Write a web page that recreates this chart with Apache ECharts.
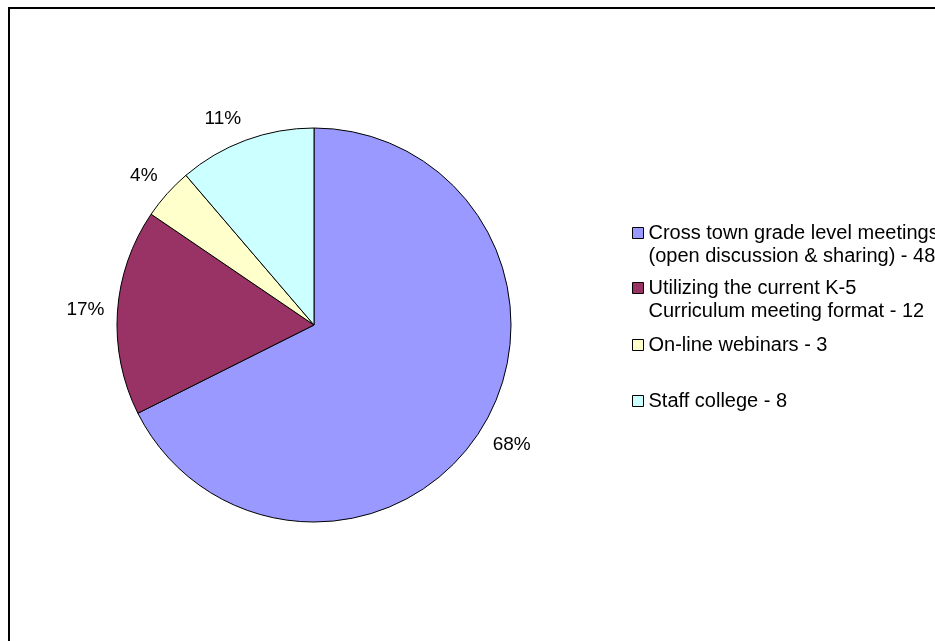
<!DOCTYPE html>
<html>
<head>
<meta charset="utf-8">
<title>Preferred formats</title>
<script src="https://cdn.jsdelivr.net/npm/echarts@6/dist/echarts.min.js"></script>
<style>
  html, body { margin: 0; padding: 0; background: #fff; }
  #chart { width: 935px; height: 641px; }
</style>
</head>
<body>
<div id="chart"></div>
<script>
// Category names (legend text) and the number of responses for each
const categories = [
  'Cross town grade level meetings\n(open discussion & sharing) - 48',
  'Utilizing the current K-5\nCurriculum meeting format - 12',
  'On-line webinars - 3',
  'Staff college - 8'
];
const counts = [48, 12, 3, 8];
const sliceColors = ['#9999FF', '#993366', '#FFFFCC', '#CCFFFF'];

const FONT = 'Liberation Sans, Arial, sans-serif';
const CX = 314, CY = 325, R = 197;
const total = counts.reduce((a, b) => a + b, 0);

// Mid-angle of each slice, clockwise from 12 o'clock
const midAngles = [];
let acc = 0;
counts.forEach(v => {
  midAngles.push((acc + v / 2) / total * Math.PI * 2);
  acc += v;
});

// One legend block per entry so each can sit at its own height.
// Two-line entries get a blank leading line so the swatch lines up
// with the first line of text.
const legendTops = [198.5, 253.5, 333.5, 389.5];
const legends = categories.map((name, i) => ({
  data: [name],
  left: 632,
  top: legendTops[i],
  padding: 0,
  orient: 'vertical',
  icon: 'rect',
  itemWidth: 11,
  itemHeight: 11,
  selectedMode: false,
  itemStyle: { borderColor: '#000', borderWidth: 1 },
  formatter: n => (n.indexOf('\n') >= 0 ? ' \n' : '') + n,
  textStyle: { fontFamily: FONT, fontSize: 20, lineHeight: 23, color: '#000' }
}));

const chart = echarts.init(document.getElementById('chart'), null, { renderer: 'canvas' });
chart.setOption({
  backgroundColor: '#fff',
  animation: false,
  legend: legends,
  graphic: [{
    type: 'rect',
    shape: { x: 9, y: 8, width: 1000, height: 1000 },
    style: { fill: 'none', stroke: '#000', lineWidth: 2 },
    silent: true
  }],
  series: [{
    type: 'pie',
    center: [CX, CY],
    radius: R,
    startAngle: 90,
    clockwise: true,
    avoidLabelOverlap: false,
    itemStyle: { borderColor: '#000', borderWidth: 1 },
    emphasis: { disabled: true },
    label: {
      show: true,
      position: 'outside',
      formatter: p => Math.round(p.value / total * 100) + '%',
      fontFamily: FONT, fontSize: 19, color: '#000'
    },
    labelLine: { show: false },
    // Place each percentage just beyond the rim, pushed outward by its own box
    labelLayout: function (p) {
      const t = midAngles[p.dataIndex];
      const s = Math.sin(t), c = Math.cos(t);
      const d = R + 13;
      const px = CX + s * d, py = CY - c * d;
      const w = p.labelRect.width, h = p.labelRect.height;
      const ky = Math.min(1, Math.abs(c) * 2);
      return {
        x: px + Math.sign(s) * w / 2,
        y: py - Math.sign(c) * ky * h / 2,
        align: 'center',
        verticalAlign: 'middle'
      };
    },
    data: categories.map((name, i) => ({
      name: name,
      value: counts[i],
      itemStyle: { color: sliceColors[i] }
    }))
  }]
});
</script>
</body>
</html>
